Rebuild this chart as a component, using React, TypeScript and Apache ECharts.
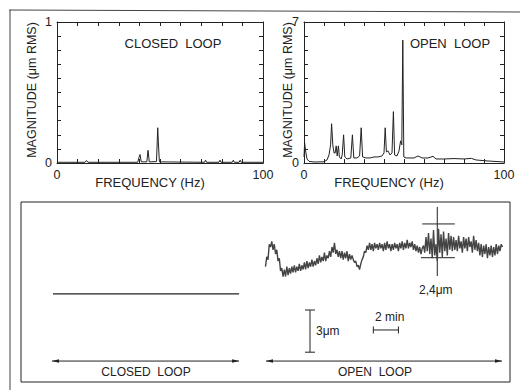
import React, { useEffect, useRef } from "react";
import * as echarts from "echarts";

// ---- top spectra (frequency Hz, magnitude µm RMS) ----
const closedSpectrum: [number, number][] = [
  [0, 0.005], [13.6, 0.005], [14.3, 0.018], [15, 0.005], [39.2, 0.005], [39.8, 0.04], [40.3, 0.06],
  [40.9, 0.008], [43.6, 0.008], [44.2, 0.09], [44.8, 0.008], [48.3, 0.01], [48.7, 0.17], [48.9, 0.25],
  [49.2, 0.15], [49.7, 0.008], [71.6, 0.005], [72.1, 0.02], [72.6, 0.005], [78.6, 0.005], [79.1, 0.02],
  [79.6, 0.005], [85.1, 0.005], [85.6, 0.02], [86.1, 0.005], [88.4, 0.005], [88.9, 0.02], [89.4, 0.005],
  [100, 0.005],
];
const openSpectrum: [number, number][] = [
  [0, 0.3], [0.3, 1.0], [0.8, 0.6], [1.5, 0.2], [2.5, 0.08], [5, 0.05], [10, 0.06], [11.5, 0.15],
  [12.5, 0.4], [13.3, 0.9], [13.8, 1.95], [14.4, 0.9], [15, 0.5], [15.6, 0.5], [16.1, 0.85], [16.6, 0.35],
  [17.2, 0.85], [17.7, 0.3], [18.6, 0.2], [19.1, 0.4], [19.8, 1.4], [20.4, 0.3], [21.5, 0.2], [23.4, 0.25],
  [24.2, 1.4], [24.9, 0.25], [26.5, 0.25], [27.8, 0.35], [28.6, 1.75], [29.3, 0.3], [31, 0.25], [33, 0.25],
  [35, 0.3], [37, 0.3], [39, 0.35], [40, 0.5], [40.6, 1.75], [41.2, 0.55], [42, 0.6], [43, 0.4], [44, 0.5],
  [44.7, 2.55], [45.3, 0.4], [46.5, 0.35], [47.5, 0.6], [48.3, 1.1], [48.9, 0.9], [49.4, 6.1], [49.9, 0.3],
  [51, 0.25], [55, 0.25], [57, 0.35], [59, 0.25], [62, 0.25], [64.5, 0.33], [66, 0.2], [70, 0.2], [75, 0.22],
  [80, 0.2], [83.7, 0.23], [86, 0.15], [92, 0.1], [100, 0.05],
];
const closedMax = 1;
const openMax = 7;
const freqMin = 0;
const freqMax = 100;

// ---- bottom time traces (minutes, µm) ----
const closedTrace: [number, number][] = [[2.55, 6.26], [17.39, 6.26]];
const openTraceStart = 19.5;
const openTraceStep = 0.1;
const openTrace: number[] = [
  8.2, 8.9, 8.7, 9.8, 9.6, 10.0, 9.4, 9.8, 9.1, 9.4,
  8.6, 8.8, 7.9, 8.1, 7.5, 8.0, 7.5, 8.2, 7.6, 8.1,
  7.7, 8.2, 7.8, 8.3, 7.8, 8.2, 7.9, 8.4, 7.9, 8.3,
  8.0, 8.5, 8.0, 8.6, 8.1, 8.5, 8.2, 8.7, 8.2, 8.6,
  8.3, 8.8, 8.4, 9.0, 8.5, 8.9, 8.6, 9.2, 8.6, 9.0,
  8.8, 9.3, 8.9, 9.6, 9.2, 9.9, 9.1, 9.4, 8.9, 9.3,
  8.8, 9.3, 8.7, 9.2, 8.8, 9.3, 8.6, 9.1, 8.7, 9.0,
  8.7, 8.5, 8.6, 8.2, 8.3, 8.0, 8.4, 8.7, 8.9, 9.3,
  9.2, 9.7, 9.4, 9.9, 9.4, 9.8, 9.3, 9.9, 9.5, 9.8,
  9.4, 9.9, 9.5, 9.8, 9.3, 9.9, 9.4, 10.0, 9.5, 9.8,
  9.3, 9.8, 9.4, 9.9, 9.5, 9.8, 9.3, 9.9, 9.5, 10.0,
  9.4, 9.9, 9.5, 10.1, 9.5, 9.9, 9.6, 10.0, 9.4, 9.8,
  9.3, 9.7, 9.2, 9.6, 9.1, 9.5, 9.7, 9.2, 10.3, 9.3,
  10.6, 9.1, 10.2, 8.8, 10.8, 9.0, 9.8, 8.6, 10.9, 9.2,
  10.5, 8.9, 10.7, 9.3, 10.2, 9.0, 10.6, 9.4, 10.4, 9.3,
  10.3, 9.4, 10.1, 9.3, 10.4, 9.5, 10.0, 9.2, 10.3, 9.5,
  10.2, 9.3, 10.3, 9.6, 10.0, 9.2, 10.4, 9.4, 10.1, 9.3,
  9.9, 9.0, 9.8, 8.9, 9.7, 9.1, 9.8, 8.8, 9.6, 9.0,
  9.7, 8.9, 9.6, 9.0, 9.8, 9.1, 9.7, 9.3, 9.8, 9.6,
];
// double-headed arrows under each trace [x1, x2, y]
const loopArrows: [number, number, number][] = [[2.47, 17.39, 1.49], [19.54, 38.36, 1.49]];
// scale bars and 2.4 µm marker as segments [x1, y1, x2, y2]
const scaleSegments: [number, number, number, number][] = [
  [23.05, 2.12, 23.05, 5.12], [22.65, 5.12, 23.45, 5.12], [22.65, 2.12, 23.45, 2.12],
  [28.1, 3.7, 30.1, 3.7], [28.1, 3.45, 28.1, 3.95], [30.1, 3.45, 30.1, 3.95],
  [33.2, 7.54, 33.2, 12.45], [32.0, 11.24, 34.6, 11.24], [31.9, 8.84, 34.6, 8.84],
];
const timeMax = 39;
const dispMax = 12.8;

const INK = "#222";
const FONT = "Liberation Sans, Arial, sans-serif";

function endLabels(max: number) {
  return (v: number) => (Math.abs(v) < 1e-9 || Math.abs(v - max) < 1e-6 ? String(Math.round(v)) : "");
}

export default function App() {
  const ref = useRef<HTMLDivElement>(null);
  useEffect(() => {
    if (!ref.current) return;
    const chart = echarts.init(ref.current, null, { renderer: "svg" });
    const axisLine = { show: true, onZero: false, lineStyle: { color: INK, width: 1 } };
    const tick = { show: true, inside: true, length: 4, lineStyle: { color: INK } };
    const mkX = (grid: number, pos: "bottom" | "top", labels: boolean) => ({
      type: "value", gridIndex: grid, position: pos, min: freqMin, max: freqMax, interval: 10,
      axisLine, axisTick: tick, splitLine: { show: false },
      axisLabel: { show: labels, formatter: endLabels(freqMax), color: INK, fontSize: 12.5, fontFamily: FONT, margin: 5 },
    });
    const mkY = (grid: number, pos: "left" | "right", max: number, labels: boolean) => ({
      type: "value", gridIndex: grid, position: pos, min: 0, max, interval: max / 10,
      axisLine, axisTick: tick, splitLine: { show: false },
      axisLabel: { show: labels, formatter: endLabels(max), color: INK, fontSize: 12.5, fontFamily: FONT, margin: 5 },
    });
    const segItem = (params: any, api: any) => {
      const a = api.coord([api.value(0), api.value(1)]);
      const b = api.coord([api.value(2), api.value(3)]);
      return { type: "line", shape: { x1: a[0], y1: a[1], x2: b[0], y2: b[1] }, style: { stroke: INK, lineWidth: 1 } };
    };
    const arrowItem = (params: any, api: any) => {
      const a = api.coord([api.value(0), api.value(2)]);
      const b = api.coord([api.value(1), api.value(2)]);
      return {
        type: "group",
        children: [
          { type: "line", shape: { x1: a[0], y1: a[1], x2: b[0], y2: b[1] }, style: { stroke: INK, lineWidth: 1 } },
          { type: "polygon", shape: { points: [[a[0], a[1]], [a[0] + 7, a[1] - 1.8], [a[0] + 7, a[1] + 1.8]] }, style: { fill: INK } },
          { type: "polygon", shape: { points: [[b[0], b[1]], [b[0] - 7, b[1] - 1.8], [b[0] - 7, b[1] + 1.8]] }, style: { fill: INK } },
        ],
      };
    };
    const txt = (text: string, x: number, y: number, size: number, align = "center", rotation = 0) => ({
      type: "text", x, y, rotation,
      style: { text, fontSize: size, fontFamily: FONT, fill: INK, align, verticalAlign: "middle", textAlign: align, textVerticalAlign: "middle" },
    });
    chart.setOption({
      animation: false,
      backgroundColor: "#fff",
      grid: [
        { left: 57, top: 22, right: 257, bottom: 227 },
        { left: 304, top: 22, right: 16, bottom: 227 },
        { left: 21, top: 202, right: 10, bottom: 8, show: true, borderColor: INK, borderWidth: 1, backgroundColor: "transparent" },
      ],
      xAxis: [
        mkX(0, "bottom", true), mkX(0, "top", false), mkX(1, "bottom", true), mkX(1, "top", false),
        { type: "value", gridIndex: 2, min: 0, max: timeMax, show: false },
      ],
      yAxis: [
        mkY(0, "left", closedMax, true), mkY(0, "right", closedMax, false),
        mkY(1, "left", openMax, true), mkY(1, "right", openMax, false),
        { type: "value", gridIndex: 2, min: 0, max: dispMax, show: false },
      ],
      series: [
        { type: "line", xAxisIndex: 0, yAxisIndex: 0, data: closedSpectrum, showSymbol: false, lineStyle: { color: INK, width: 1 } },
        { type: "line", xAxisIndex: 2, yAxisIndex: 2, data: openSpectrum, showSymbol: false, lineStyle: { color: INK, width: 1 } },
        { type: "line", xAxisIndex: 4, yAxisIndex: 4, data: closedTrace, showSymbol: false, lineStyle: { color: INK, width: 1.3 } },
        {
          type: "line", xAxisIndex: 4, yAxisIndex: 4, showSymbol: false,
          data: openTrace.map((v, i) => [openTraceStart + i * openTraceStep, v]),
          lineStyle: { color: "#444", width: 1.4 },
        },
        { type: "custom", xAxisIndex: 4, yAxisIndex: 4, data: scaleSegments, renderItem: segItem },
        { type: "custom", xAxisIndex: 4, yAxisIndex: 4, data: loopArrows, renderItem: arrowItem },
      ],
      graphic: [
        { type: "line", shape: { x1: 9, y1: 10, x2: 520, y2: 12 }, style: { stroke: "#444", lineWidth: 1 } },
        { type: "line", shape: { x1: 10, y1: 10, x2: 10, y2: 390 }, style: { stroke: "#444", lineWidth: 1 } },
        txt("MAGNITUDE (μm RMS)", 32, 90, 12.5, "center", Math.PI / 2),
        txt("MAGNITUDE (μm RMS)", 288, 90, 12.5, "center", Math.PI / 2),
        txt("FREQUENCY (Hz)", 150, 182, 13),
        txt("FREQUENCY (Hz)", 389, 182, 13),
        txt("CLOSED  LOOP", 173, 43, 13),
        txt("OPEN  LOOP", 450, 43, 13),
        txt("CLOSED  LOOP", 146, 372, 12),
        txt("OPEN  LOOP", 375, 372, 12),
        txt("3μm", 316, 331, 12, "left"),
        txt("2 min", 375, 317, 12, "left"),
        txt("2,4μm", 419, 290, 12, "left"),
      ],
    });
    return () => chart.dispose();
  }, []);
  return <div ref={ref} style={{ width: 520, height: 390, position: "absolute", left: 0, top: 0 }} />;
}
